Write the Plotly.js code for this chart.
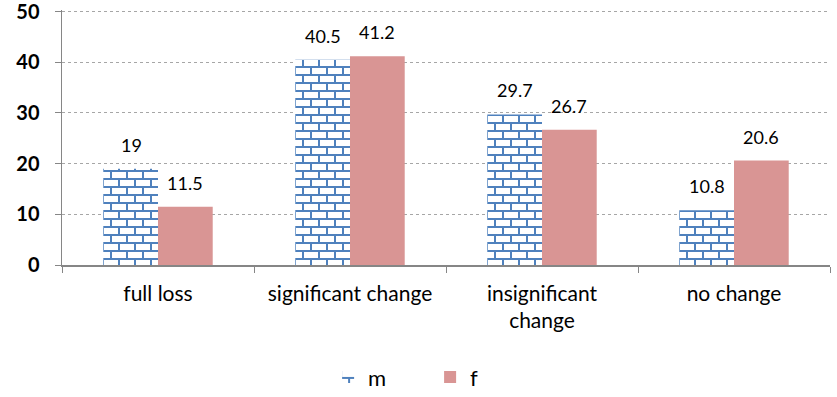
<!DOCTYPE html>
<html>
<head>
<meta charset="utf-8">
<script src="https://cdn.plot.ly/plotly-3.0.1.min.js"></script>
<style>html,body{margin:0;padding:0;background:#fff;}#chart{width:837px;height:397px;}</style>
</head>
<body>
<div id="chart"></div>
<script>
const categories = ["full loss", "significant change", "insignificant<br>change", "no change"];
const seriesNames = ["m", "f"];
const mValues = [19, 40.5, 29.7, 10.8];
const fValues = [11.5, 41.2, 26.7, 20.6];
const yTicks = [0, 10, 20, 30, 40, 50];

const FONT = "Lato, 'Open Sans', sans-serif";

const traces = [
  {
    type: "bar", name: seriesNames[0], x: categories, y: mValues,
    marker: {color: "#ffffff", line: {width: 0},
      pattern: {shape: "+", fgcolor: "#4F81BD", bgcolor: "#ffffff", size: 8, solidity: 0.25}},
    hoverinfo: "skip"
  },
  {
    type: "bar", name: seriesNames[1], x: categories, y: fValues,
    marker: {color: "#D99594", line: {width: 0}},
    hoverinfo: "skip"
  }
];

const annotations = [];
[mValues, fValues].forEach((vals, si) => {
  vals.forEach((v, i) => {
    annotations.push({
      x: categories[i], y: v, xref: "x", yref: "y",
      text: String(v), showarrow: false,
      xshift: si === 0 ? -27 : 27, yshift: 24,
      font: {family: FONT, size: 18, color: "#000"}
    });
  });
});

const layout = {
  width: 837, height: 397,
  margin: {l: 62, r: 7, t: 10, b: 132},
  paper_bgcolor: "#fff", plot_bgcolor: "#fff",
  barmode: "group", bargap: 0.43, bargroupgap: 0,
  showlegend: true,
  legend: {orientation: "h", xref: "container", yref: "container",
    x: 0.392, xanchor: "left", y: 0.05, yanchor: "middle",
    entrywidth: 57, entrywidthmode: "pixels",
    font: {family: FONT, size: 22, color: "#000"}, itemwidth: 30, traceorder: "normal"},
  xaxis: {
    type: "category", tickson: "boundaries", ticks: "outside", ticklen: 6, tickcolor: "#868686",
    showline: true, linecolor: "#868686", linewidth: 1.5, showgrid: false,
    ticklabelstandoff: 9,
    tickfont: {family: FONT, size: 21, color: "#000"}
  },
  yaxis: {
    range: [0, 50.3], tickvals: yTicks,
    ticks: "outside", ticklen: 6, tickcolor: "#868686",
    showline: true, linecolor: "#868686", linewidth: 1.5,
    showgrid: true, gridcolor: "#A6A6A6", griddash: "dot", gridwidth: 1,
    zeroline: false, ticklabelstandoff: 11, ticklabeloverflow: "allow",
    tickfont: {family: FONT, size: 20, color: "#000", weight: "bold"}
  },
  annotations: annotations
};

function brickify() {
  const pats = document.querySelectorAll("#chart pattern");
  pats.forEach(p => {
    p.setAttribute("patternUnits", "userSpaceOnUse");
    p.setAttribute("width", "16");
    p.setAttribute("height", "16");
    p.removeAttribute("patternTransform");
    p.innerHTML =
      '<rect x="0" y="0" width="16" height="16" fill="#ffffff"></rect>' +
      '<path d="M0 1H16M0 9H16M1 1V9M9 9V17" stroke="#4F81BD" stroke-width="2" fill="none"></path>';
  });
}

Plotly.newPlot("chart", traces, layout, {displayModeBar: false, staticPlot: true}).then(brickify);
</script>
</body>
</html>
